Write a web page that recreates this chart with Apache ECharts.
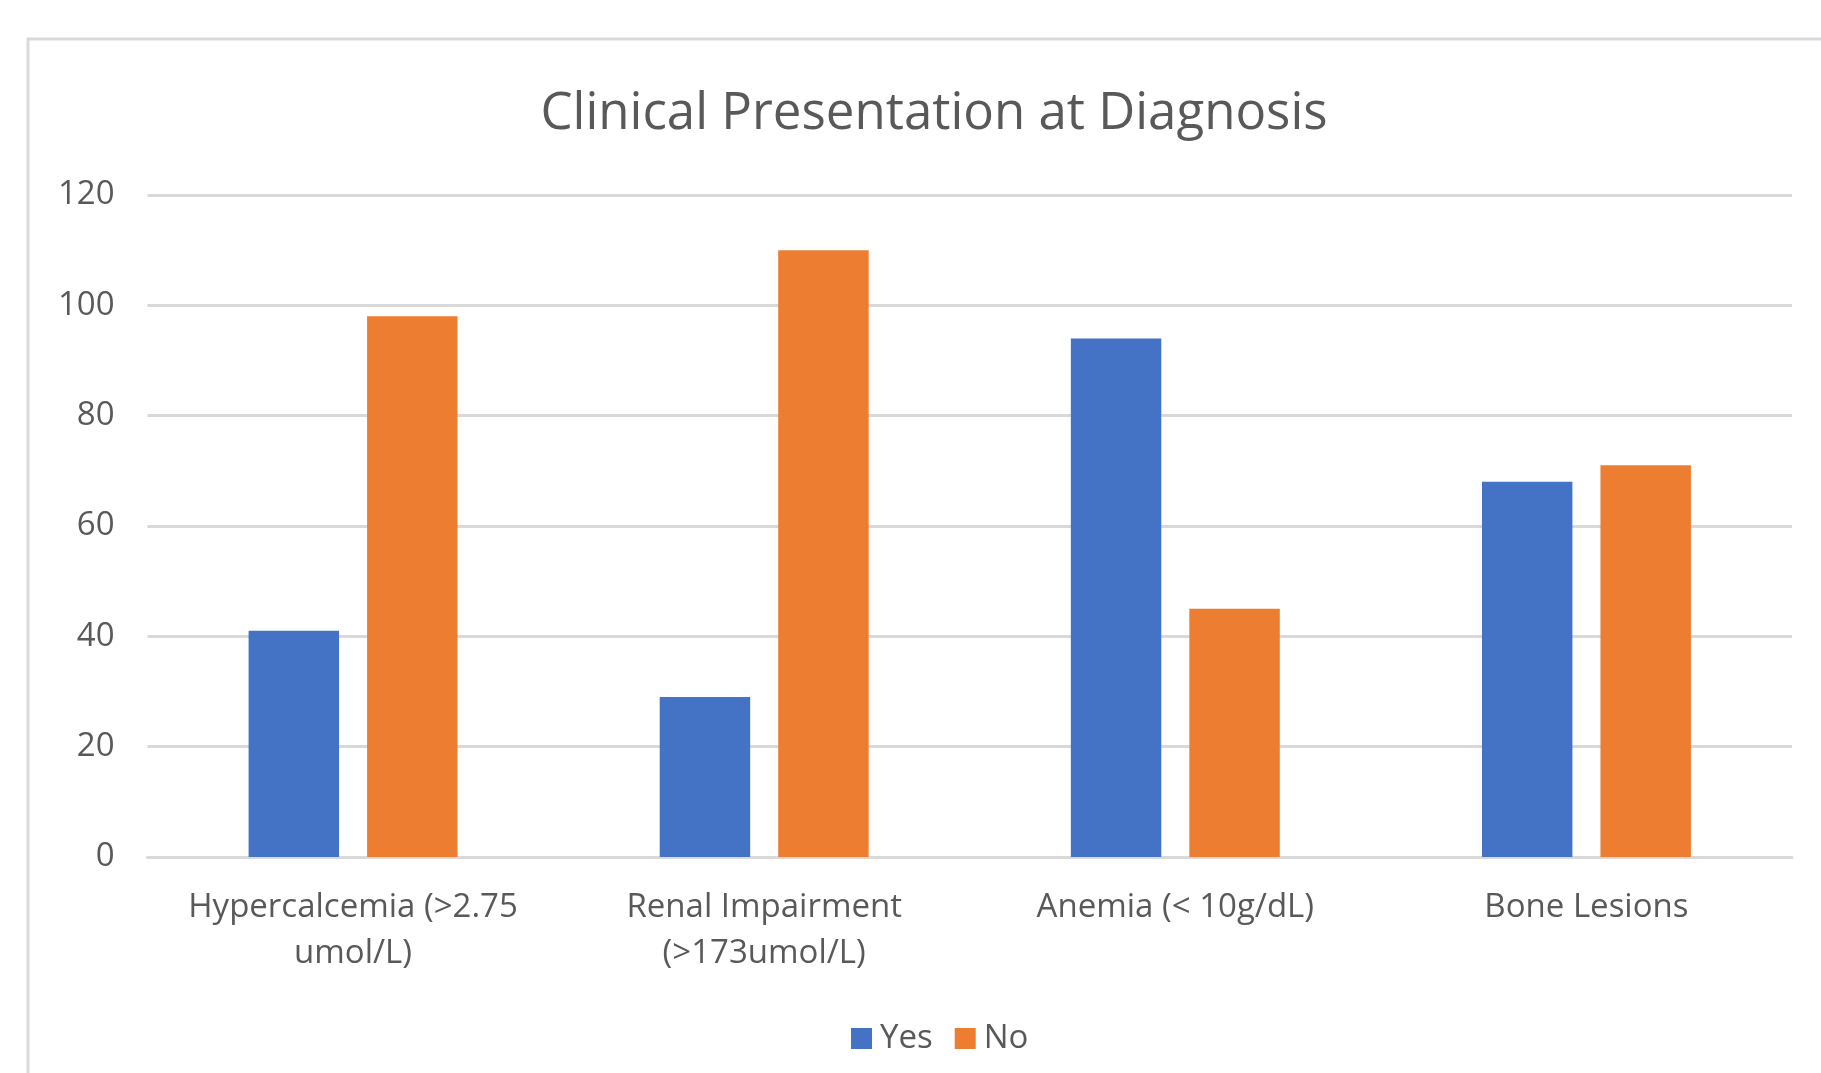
<!DOCTYPE html>
<html>
<head>
<meta charset="utf-8">
<title>Clinical Presentation at Diagnosis</title>
<script src="https://cdn.jsdelivr.net/npm/echarts@6/dist/echarts.min.js"></script>
<style>
  html, body { margin: 0; padding: 0; background: #ffffff; }
  #chart { width: 1821px; height: 1073px; }
</style>
</head>
<body>
<div id="chart"></div>
<script>
// Presenting features at diagnosis (patient counts)
const categories = [
  'Hypercalcemia (>2.75\numol/L)',
  'Renal Impairment\n(>173umol/L)',
  'Anemia (< 10g/dL)',
  'Bone Lesions'
];
const yesCounts = [41, 29, 94, 68];
const noCounts = [98, 110, 45, 71];
const yTicks = { min: 0, max: 120, step: 20 };

const textColor = '#595959';
const gridColor = '#d9d9d9';
const fontFamily = '"Open Sans", "Noto Sans", sans-serif';

const chart = echarts.init(document.getElementById('chart'), null, { renderer: 'canvas' });

chart.setOption({
  backgroundColor: '#ffffff',
  animation: false,
  graphic: [{
    type: 'rect',
    shape: { x: 28, y: 39, width: 2000, height: 2000 },
    style: { fill: 'none', stroke: gridColor, lineWidth: 3 },
    silent: true,
    z: -1
  }],
  title: {
    text: 'Clinical Presentation at Diagnosis',
    left: 929,
    textAlign: 'center',
    top: 84,
    textStyle: { color: textColor, fontFamily: fontFamily, fontSize: 51, fontWeight: 'normal' }
  },
  legend: {
    left: 846,
    top: 1017,
    itemWidth: 21,
    itemHeight: 21,
    itemGap: 22,
    icon: 'rect',
    textStyle: { color: textColor, fontFamily: fontFamily, fontSize: 33, padding: [0, 0, 0, 3] },
    data: ['Yes', 'No']
  },
  grid: { left: 147.5, right: 29, top: 195, bottom: 216 },
  xAxis: {
    type: 'category',
    data: categories,
    axisLine: { lineStyle: { color: gridColor, width: 3 } },
    axisTick: { show: false },
    axisLabel: {
      color: textColor, fontFamily: fontFamily, fontSize: 33,
      lineHeight: 46, margin: 28, interval: 0
    }
  },
  yAxis: {
    type: 'value',
    min: yTicks.min,
    max: yTicks.max,
    interval: yTicks.step,
    axisLine: { show: false },
    axisTick: { show: false },
    splitLine: { lineStyle: { color: gridColor, width: 3 } },
    axisLabel: { color: textColor, fontFamily: fontFamily, fontSize: 33, margin: 33 }
  },
  series: [
    {
      name: 'Yes', type: 'bar', data: yesCounts,
      itemStyle: { color: '#4472c4' },
      barWidth: '22%', barGap: '31%'
    },
    {
      name: 'No', type: 'bar', data: noCounts,
      itemStyle: { color: '#ed7d31' },
      barWidth: '22%', barGap: '31%'
    }
  ]
});
</script>
</body>
</html>
